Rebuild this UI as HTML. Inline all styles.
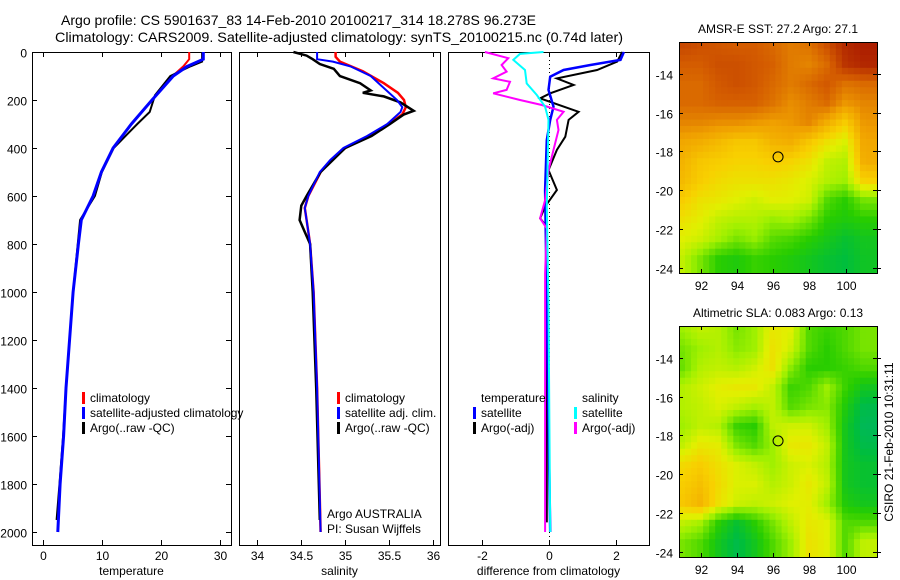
<!DOCTYPE html>
<html><head><meta charset="utf-8"><style>
body{margin:0;background:#fff;}
svg{display:block;font-family:"Liberation Sans",sans-serif;}
</style></head><body>
<svg id="fig" width="900" height="580" viewBox="0 0 900 580" xmlns="http://www.w3.org/2000/svg">
<rect width="900" height="580" fill="#fff"/>
<text x="61" y="25" font-size="14" textLength="475" lengthAdjust="spacingAndGlyphs">Argo profile: CS 5901637_83 14-Feb-2010 20100217_314 18.278S 96.273E</text>
<text x="55" y="42" font-size="14" textLength="568" lengthAdjust="spacingAndGlyphs">Climatology: CARS2009. Satellite-adjusted climatology: synTS_20100215.nc (0.74d later)</text>
<g id="g"></g>
</svg>
<script>
// ---- profile data ----
const tClimD=[0,30,60,100,200,300,400,500,600,700,800,1000,1400,1600,1800,2000];
const tClimV=[24.8,24.8,23.8,22.0,18.5,15.0,11.9,9.9,8.5,6.5,6.0,5.1,3.9,3.5,2.9,2.5];
const tSatD=[0,30,61,100,200,300,400,500,600,700,800,1000,1400,1600,1800,2000];
const tSatV=[27.2,27.2,24.4,22.1,18.5,15.0,11.9,9.9,8.5,6.5,6.0,5.1,3.9,3.5,2.9,2.5];
const tArgD=[0,40,60,100,180,250,300,400,500,600,700,1000,1400,1600,1800,1950];
const tArgV=[27.0,27.0,25.0,21.6,19.0,18.1,16.0,12.0,10.0,8.8,6.3,5.1,3.9,3.4,2.8,2.3];
const sClimD=[0,20,40,80,130,170,200,230,260,300,350,400,450,500,600,650,700,800,1000,1400,2000];
const sClimV=[34.89,34.89,34.94,35.2,35.44,35.6,35.67,35.69,35.65,35.5,35.27,35.0,34.84,34.72,34.58,34.54,34.56,34.6,34.64,34.68,34.72];
const sSatD=[0,30,40,60,100,150,200,230,250,300,350,400,450,500,600,650,700,800,1000,1400,2000];
const sSatV=[34.68,34.68,34.86,35.06,35.29,35.44,35.59,35.65,35.63,35.48,35.25,34.98,34.83,34.71,34.58,34.54,34.56,34.6,34.64,34.68,34.72];
const sArgD=[0,15,30,50,70,100,130,160,170,185,210,245,260,300,350,400,500,600,640,700,750,800,1000,1400,1950];
const sArgV=[34.41,34.56,34.63,34.71,34.87,34.94,35.17,35.29,35.2,35.44,35.63,35.78,35.67,35.51,35.3,35.0,34.72,34.56,34.5,34.48,34.54,34.6,34.63,34.67,34.71];
const dTSatD=[0,33,54,75,103,158,228,283,367,575,2000];
const dTSatV=[2.25,2.15,1.25,0.45,0.05,0,0.15,0.05,-0.05,-0.1,0.05];
const dTArgD=[0,40,75,110,137,172,193,249,283,353,408,492,575,644,693,728,1960];
const dTArgV=[2.2,2.05,1.45,0.25,0.75,0.05,-0.25,0.9,0.6,0.5,0.25,0,0.25,-0.1,-0.25,-0.05,-0.05];
const dSSatD=[0,8,33,75,131,179,228,283,644,1061,2000];
const dSSatV=[-0.15,-0.85,-1.05,-0.7,-0.65,-0.35,-0.1,0,-0.05,0,0.05];
const dSArgD=[0,26,54,82,110,124,158,172,200,221,249,283,325,408,492,617,693,735,922,2000];
const dSArgV=[-1.9,-1.2,-1.4,-1.25,-1.65,-1.15,-1.25,-1.65,-0.85,-0.2,0.45,0.25,0.3,0.15,0,-0.1,-0.25,-0.05,-0.1,-0.1];
const depthTicks=[0,200,400,600,800,1000,1200,1400,1600,1800,2000];
const tTicks=[0,10,20,30];
const sTicks=[34,34.5,35,35.5,36];
const dTicks=[-2,0,2];
// ---- map data (normalized colour index 0..1), rows lat -12.5..-23.5, cols lon 91..101 ----
const mapLons=[91,92,93,94,95,96,97,98,99,100,101];
const mapLats=[-12.5,-13.5,-14.5,-15.5,-16.5,-17.5,-18.5,-19.5,-20.5,-21.5,-22.5,-23.5];
const sstGrid=[
[0.9,0.88,0.86,0.85,0.85,0.82,0.78,0.8,0.88,0.97,1.0],
[0.85,0.85,0.88,0.88,0.86,0.84,0.78,0.76,0.82,0.95,0.98],
[0.82,0.82,0.86,0.88,0.86,0.82,0.78,0.82,0.86,0.8,0.82],
[0.82,0.82,0.84,0.84,0.84,0.8,0.74,0.78,0.82,0.72,0.76],
[0.76,0.76,0.74,0.74,0.72,0.7,0.72,0.76,0.66,0.56,0.72],
[0.68,0.66,0.62,0.58,0.58,0.64,0.66,0.58,0.5,0.44,0.68],
[0.64,0.58,0.56,0.54,0.54,0.56,0.54,0.5,0.4,0.38,0.66],
[0.62,0.56,0.52,0.5,0.5,0.5,0.48,0.44,0.38,0.35,0.55],
[0.56,0.5,0.48,0.45,0.42,0.46,0.45,0.42,0.25,0.2,0.3],
[0.5,0.46,0.4,0.38,0.38,0.34,0.36,0.3,0.2,0.18,0.2],
[0.45,0.42,0.36,0.3,0.34,0.26,0.24,0.2,0.16,0.12,0.15],
[0.4,0.3,0.2,0.18,0.22,0.2,0.18,0.15,0.12,0.1,0.14]];
const slaGrid=[
[0.35,0.4,0.38,0.3,0.35,0.48,0.45,0.25,0.22,0.25,0.3],
[0.3,0.35,0.38,0.32,0.35,0.5,0.42,0.25,0.2,0.25,0.3],
[0.28,0.38,0.4,0.38,0.42,0.5,0.32,0.2,0.2,0.22,0.25],
[0.38,0.42,0.46,0.48,0.48,0.4,0.22,0.25,0.35,0.22,0.15],
[0.38,0.4,0.44,0.4,0.36,0.4,0.25,0.3,0.32,0.18,0.08],
[0.35,0.4,0.38,0.22,0.2,0.4,0.42,0.42,0.35,0.15,0.06],
[0.4,0.48,0.46,0.3,0.25,0.35,0.48,0.48,0.4,0.15,0.08],
[0.52,0.56,0.5,0.44,0.4,0.35,0.42,0.44,0.38,0.15,0.12],
[0.56,0.6,0.52,0.44,0.44,0.38,0.42,0.48,0.4,0.15,0.12],
[0.58,0.64,0.5,0.42,0.4,0.42,0.45,0.46,0.35,0.18,0.15],
[0.4,0.36,0.2,0.12,0.2,0.3,0.4,0.48,0.45,0.25,0.25],
[0.3,0.25,0.15,0.08,0.15,0.25,0.35,0.5,0.45,0.25,0.4]];
const lonTicks=[92,94,96,98,100];
const latTicks=[-14,-16,-18,-20,-22,-24];
const argoLon=96.273, argoLat=-18.278;

const NS="http://www.w3.org/2000/svg";
const G=document.getElementById('g');
function el(tag,attrs,parent){const e=document.createElementNS(NS,tag);for(const k in attrs)e.setAttribute(k,attrs[k]);(parent||G).appendChild(e);return e;}
function txt(s,x,y,attrs,parent){const e=el('text',Object.assign({x:x,y:y,'font-size':12},attrs||{}),parent);e.textContent=s;return e;}

const Y0=52, Y1=545;
const yD=d=>Y0+d*0.24;
const panels=[
 {name:'temperature-panel',x0:32,x1:231,vmin:-1.87,vmax:31.9,ticks:tTicks,label:'temperature'},
 {name:'salinity-panel',x0:239,x1:440,vmin:33.79,vmax:36.08,ticks:sTicks,label:'salinity'},
 {name:'difference-panel',x0:448,x1:649,vmin:-3,vmax:3,ticks:dTicks,label:'difference from climatology'}
];
panels.forEach((p,i)=>{
  p.sx=v=>p.x0+(v-p.vmin)/(p.vmax-p.vmin)*(p.x1-p.x0);
  const g=el('g',{});
  
  
  const r=el('rect',{x:p.x0+0.5,y:Y0+0.5,width:p.x1-p.x0,height:Y1-Y0,fill:'none',stroke:'#000','stroke-width':1},g);
  
  
  p.ticks.forEach(t=>{
    const x=Math.round(p.sx(t))+0.5;
    el('line',{x1:x,x2:x,y1:Y1,y2:Y1-5,stroke:'#000'},g);
    el('line',{x1:x,x2:x,y1:Y0,y2:Y0+5,stroke:'#000'},g);
    const tl=txt(String(t),x,Y1+15,{'text-anchor':'middle'},g);
    
    
  });
  const xl=txt(p.label,(p.x0+p.x1)/2,Y1+30,{'text-anchor':'middle'},g);
  
  
  if(i===0){
    depthTicks.forEach(d=>{
      const y=Math.round(yD(d))+0.5;
      el('line',{x1:p.x0,x2:p.x0+5,y1:y,y2:y,stroke:'#000'},g);
      el('line',{x1:p.x1-5,x2:p.x1,y1:y,y2:y,stroke:'#000'},g);
      const yl=txt(String(d),27,y+5,{'text-anchor':'end'},g);
      
      
    });
  }
  if(i===2){
    const z=Math.round(p.sx(0))+0.5;
    el('line',{x1:z,x2:z,y1:Y0,y2:Y1,stroke:'#000','stroke-dasharray':'1,3'},g);
  }
  p.g=g;
});
function line(p,D,V,color,w,name){
  const pts=D.map((d,k)=>p.sx(V[k]).toFixed(1)+','+yD(d).toFixed(1)).join(' ');
  const e=el('polyline',{points:pts,fill:'none',stroke:color,'stroke-width':w,'stroke-linejoin':'miter'},p.g);
  
  
}
line(panels[0],tClimD,tClimV,'#f00',2,'temperature-climatology-line');
line(panels[0],tArgD,tArgV,'#000',2,'temperature-argo-line');
line(panels[0],tSatD,tSatV,'#00f',3,'temperature-satellite-line');
line(panels[1],sClimD,sClimV,'#f00',2.5,'salinity-climatology-line');
line(panels[1],sArgD,sArgV,'#000',2.5,'salinity-argo-line');
line(panels[1],sSatD,sSatV,'#00f',2,'salinity-satellite-line');
line(panels[2],dTArgD,dTArgV,'#000',2,'temp-argo-diff-line');
line(panels[2],dTSatD,dTSatV,'#00f',2.5,'temp-satellite-diff-line');
line(panels[2],dSArgD,dSArgV,'#f0f',2,'sal-argo-diff-line');
line(panels[2],dSSatD,dSSatV,'#0ff',2,'sal-satellite-diff-line');

function legendEntry(x,y,color,label,name){
  const g=el('g',{});
  
  
  if(color) el('rect',{x:x,y:y-10,width:3,height:12,fill:color},g);
  txt(label,x+8,y,{},g);
}
legendEntry(82,402,'#f00','climatology','legend-climatology');
legendEntry(82,417,'#00f','satellite-adjusted climatology','legend-satellite-adjusted');
legendEntry(82,432,'#000','Argo(..raw -QC)','legend-argo');
legendEntry(337,402,'#f00','climatology','legend-sal-climatology');
legendEntry(337,417,'#00f','satellite adj. clim.','legend-sal-satellite');
legendEntry(337,432,'#000','Argo(..raw -QC)','legend-sal-argo');
legendEntry(473,402,null,'temperature','legend-temperature-header');
legendEntry(473,417,'#00f','satellite','legend-temp-satellite');
legendEntry(473,432,'#000','Argo(-adj)','legend-temp-argo');
legendEntry(574,402,null,'salinity','legend-salinity-header');
legendEntry(574,417,'#0ff','satellite','legend-sal-sat');
legendEntry(574,432,'#f0f','Argo(-adj)','legend-sal-argo-adj');
const c1=txt('Argo AUSTRALIA',327,518,{});


const c2=txt('PI: Susan Wijffels',327,533,{});



// ---- maps ----
const stops=[[0,[0,176,128]],[0.1,[0,190,60]],[0.2,[40,205,0]],[0.35,[160,240,0]],[0.45,[224,240,0]],[0.55,[248,208,0]],[0.7,[240,160,0]],[0.85,[212,92,0]],[1,[172,30,0]]];
function cmap(v){v=Math.max(0,Math.min(1,v));for(let i=1;i<stops.length;i++){if(v<=stops[i][0]){const a=stops[i-1],b=stops[i];const t=(v-a[0])/(b[0]-a[0]);const c=a[1].map((x,k)=>Math.round(x+(b[1][k]-x)*t));return 'rgb('+c.join(',')+')';}}return 'rgb(172,30,0)';}
function sample(grid,lon,lat){
  let fx=(lon-mapLons[0])/(mapLons[1]-mapLons[0]);let fy=(lat-mapLats[0])/(mapLats[1]-mapLats[0]);
  fx=Math.max(0,Math.min(mapLons.length-1,fx));fy=Math.max(0,Math.min(mapLats.length-1,fy));
  const i0=Math.min(Math.floor(fx),mapLons.length-2),j0=Math.min(Math.floor(fy),mapLats.length-2);
  const tx=fx-i0,ty=fy-j0;
  return grid[j0][i0]*(1-tx)*(1-ty)+grid[j0][i0+1]*tx*(1-ty)+grid[j0+1][i0]*(1-tx)*ty+grid[j0+1][i0+1]*tx*ty;
}
function drawMap(name,grid,top,title){
  const X0=679,X1=877,LON0=90.8,LON1=101.74,LAT0=-12.35,LAT1=-24.27,H=231;
  const Yb=top+H;
  const sx=l=>X0+(l-LON0)/(LON1-LON0)*(X1-X0);
  const sy=l=>top+(l-LAT0)/(LAT1-LAT0)*H;
  const g=el('g',{});
  
  
  const step=1/3;
  for(let lat=LAT0;lat>LAT1;lat-=step){
    for(let lon=LON0;lon<LON1;lon+=step){
      const x=sx(lon),y=sy(lat);
      const w=Math.min(sx(lon+step),X1)-x,h=Math.min(sy(lat-step),Yb)-y;
      const c=el('rect',{x:x.toFixed(2),y:y.toFixed(2),width:(w+0.4).toFixed(2),height:(h+0.4).toFixed(2),fill:cmap(sample(grid,lon+step/2,lat-step/2))},g);
      
      
    }
  }
  el('rect',{x:X0+0.5,y:top+0.5,width:X1-X0,height:H,fill:'none',stroke:'#000'},g);
  lonTicks.forEach(l=>{const x=Math.round(sx(l))+0.5;
    el('line',{x1:x,x2:x,y1:top,y2:top+4,stroke:'#000'},g);
    el('line',{x1:x,x2:x,y1:Yb,y2:Yb-4,stroke:'#000'},g);
    const t=txt(String(l),x,Yb+17,{'text-anchor':'middle'},g);
    
    });
  latTicks.forEach(l=>{const y=Math.round(sy(l))+0.5;
    el('line',{x1:X0,x2:X0+4,y1:y,y2:y,stroke:'#000'},g);
    el('line',{x1:X1-4,x2:X1+4,y1:y,y2:y,stroke:'#000'},g);
    const t=txt(String(l),673,y+5,{'text-anchor':'end'},g);
    
    });
  const tt=txt(title,(X0+X1)/2,top-9,{'text-anchor':'middle'},g);
  
  
  const m=el('circle',{cx:sx(argoLon),cy:sy(argoLat),r:5,fill:'none',stroke:'#000','stroke-width':1},g);
  
  
}
drawMap('sst-map',sstGrid,42,'AMSR-E SST: 27.2 Argo: 27.1');
drawMap('sla-map',slaGrid,326,'Altimetric SLA: 0.083 Argo: 0.13');
const st=txt('CSIRO 21-Feb-2010 10:31:11',0,0,{'text-anchor':'middle',transform:'translate(893,442) rotate(-90)'});


</script>
</body></html>
